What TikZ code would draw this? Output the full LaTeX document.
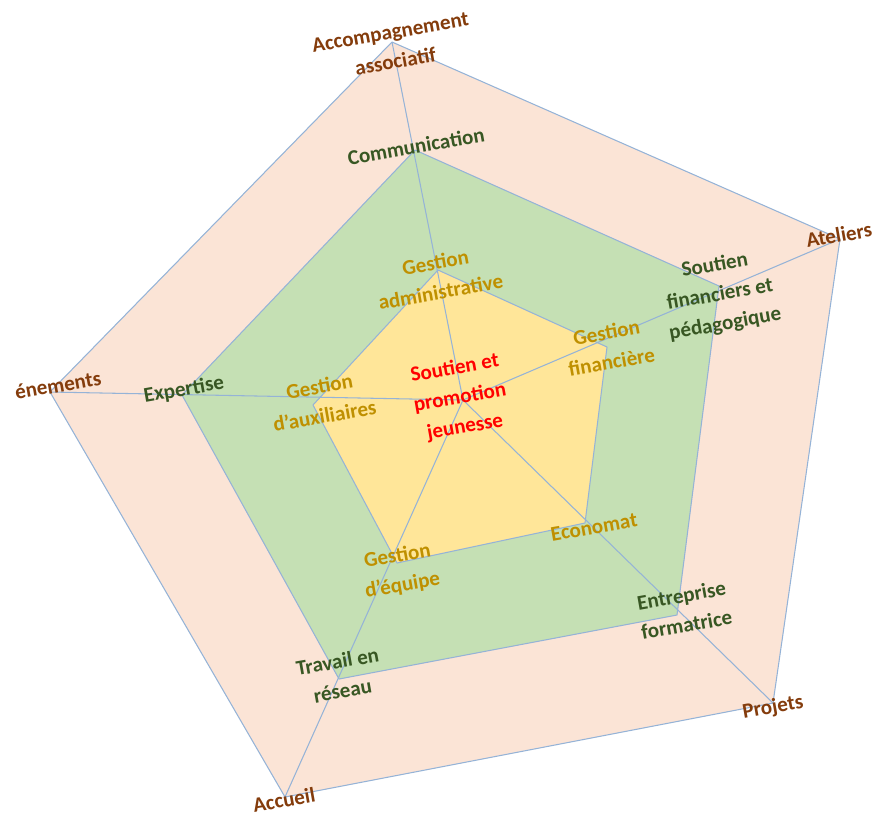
\documentclass[tikz,border=0pt]{standalone}
\usepackage{fontspec}
\setmainfont{Carlito}
\definecolor{peach}{HTML}{FBE4D6}
\definecolor{leaf}{HTML}{C5E0B4}
\definecolor{gold}{HTML}{FFE699}
\definecolor{rayblue}{HTML}{95B3D7}
\definecolor{rust}{HTML}{843C0C}
\definecolor{forest}{HTML}{385723}
\definecolor{ochre}{HTML}{BF9000}

\begin{document}
\begin{tikzpicture}[x=0.02cm,y=-0.02cm,
		edge/.style={draw=rayblue,line width=0.6pt,line join=round},
		tag/.style={font=\bfseries\fontsize{12}{17}\selectfont,align=center,rotate=10,inner sep=0pt},
		outertag/.style={tag,text=rust},
		midtag/.style={tag,text=forest},
		innertag/.style={tag,text=ochre}]
	\useasboundingbox (0,0) rectangle (875,816);
	\coordinate (c) at (463,400);
	\coordinate (o1) at (392,42);
	\coordinate (o2) at (840,239);
	\coordinate (o3) at (773,703);
	\coordinate (o4) at (285,797);
	\coordinate (o5) at (50,392);
	\coordinate (m1) at (415,150);
	\coordinate (m2) at (719,286);
	\coordinate (m3) at (677,615);
	\coordinate (m4) at (339,679);
	\coordinate (m5) at (182,395);
	\coordinate (i1) at (438,270);
	\coordinate (i2) at (607,347);
	\coordinate (i3) at (585,523);
	\coordinate (i4) at (397,563);
	\coordinate (i5) at (313,405);
	\path[edge,fill=peach] (o1) -- (o2) -- (o3) -- (o4) -- (o5) -- cycle;
	\path[edge,fill=leaf] (m1) -- (m2) -- (m3) -- (m4) -- (m5) -- cycle;
	\path[edge,fill=gold] (i1) -- (i2) -- (i3) -- (i4) -- (i5) -- cycle;
	\foreach \k in {1,...,5}
		\draw[edge] (c) -- (o\k);
	\node[outertag] (accomp) at (393,47) {Accompagnement\\associatif};
	\node[outertag] (ateliers) at (839,235) {Ateliers};
	\node[outertag] (projets) at (773,708) {Projets};
	\node[outertag] (accueil) at (284,800) {Accueil};
	\node[outertag] (evenements) at (58,385) {énements};
	\node[midtag] (communication) at (416,146) {Communication};
	\node[midtag] (soutien) at (720,295) {Soutien\\financiers et\\pédagogique};
	\node[midtag] (entreprise) at (684,610) {Entreprise\\formatrice};
	\node[midtag] (travail) at (340,676) {Travail en\\réseau};
	\node[midtag] (expertise) at (184,390) {Expertise};
	\node[innertag] (admin) at (438,277) {Gestion\\administrative};
	\node[innertag] (finance) at (609,347) {Gestion\\financière};
	\node[innertag] (economat) at (594,527) {Economat};
	\node[innertag] (equipe) at (400,571) {Gestion\\d’équipe};
	\node[innertag] (auxiliaires) at (322,401) {Gestion\\d’auxiliaires};
	\node[tag,text=red] (centre) at (460,398) {Soutien et\\promotion\\jeunesse};
\end{tikzpicture}
\end{document}
